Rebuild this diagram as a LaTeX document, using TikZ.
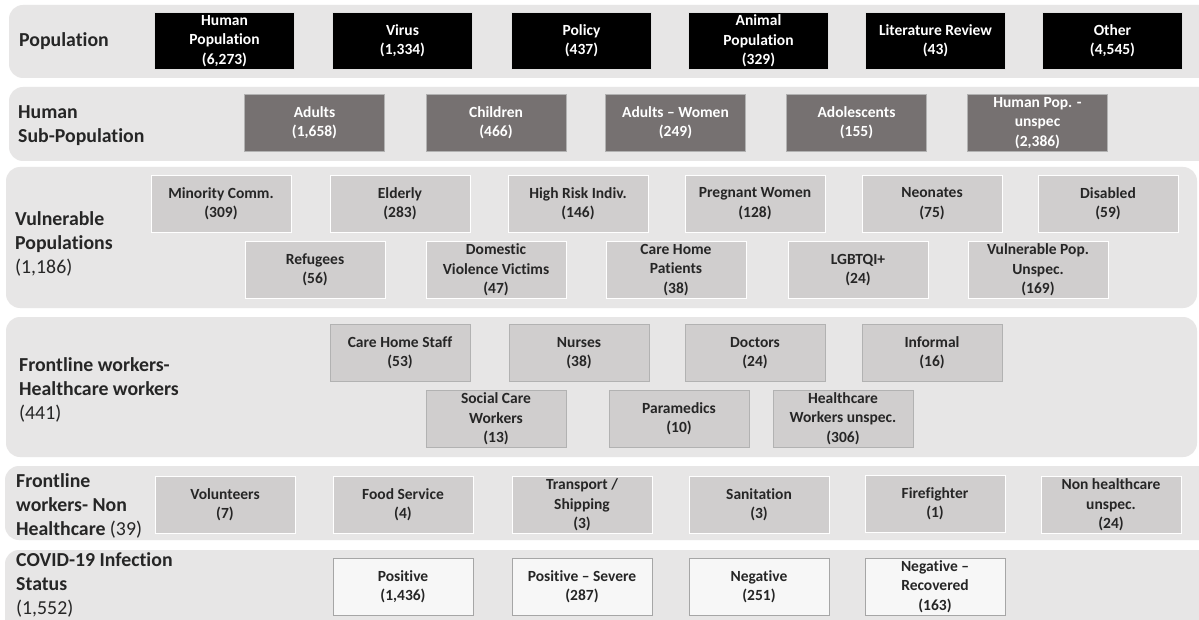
\documentclass[tikz,border=0pt]{standalone}
\usepackage{fontspec}
\setmainfont[Ligatures=NoCommon]{Carlito}
\definecolor{panelbg}{HTML}{E7E6E6}
\definecolor{darkfill}{HTML}{767171}
\definecolor{lightfill}{HTML}{D0CECE}
\definecolor{whitefill}{HTML}{F7F7F7}
\definecolor{txt}{HTML}{262626}
\begin{document}
\begin{tikzpicture}[x=1pt,y=-1pt,
  panel/.style={fill=panelbg, rounded corners=14pt},
  box/.style={rectangle, minimum width=140pt, minimum height=57pt, inner sep=0pt, align=center,
    font=\bfseries\fontsize{15.5}{19.3}\selectfont, line width=0.9pt},
  blackbox/.style={box, fill=black, draw=black!12, text=white},
  darkbox/.style={box, fill=darkfill, draw=black!30, text=white},
  lightbox/.style={box, fill=lightfill, draw=white, text=txt},
  lightboxg/.style={box, fill=lightfill, draw=black!30, text=txt},
  whitebox/.style={box, fill=whitefill, draw=black!35, text=txt},
  lbl/.style={anchor=west, align=left, inner sep=0pt, font=\fontsize{19.8}{24}\selectfont, text=txt}
]
\useasboundingbox (0,0) rectangle (1199,620);
\fill[white] (0,0) rectangle (1199,620);

% panels
\fill[panel] (9,5) rectangle (1215,78);
\fill[panel] (9,87) rectangle (1215,161);
\fill[panel] (6,167) rectangle (1197,308);
\fill[panel] (6,317) rectangle (1197,457);
\fill[panel] (5,466) rectangle (1215,540);
\fill[panel] (5,550) rectangle (1215,640);

% labels
\node[lbl] (lpop) at (19,41) {\textbf{Population}};
\node[lbl] (lsub) at (18,126) {\textbf{Human}\\\textbf{Sub-Population}};
\node[lbl] (lvul) at (15,244) {\textbf{Vulnerable}\\\textbf{Populations}\\(1,186)};
\node[lbl] (lhcw) at (19,390) {\textbf{Frontline workers-}\\\textbf{Healthcare workers}\\(441)};
\node[lbl] (lnon) at (16,506) {\textbf{Frontline}\\\textbf{workers- Non}\\\textbf{Healthcare} (39)};
\node[lbl] (lcov) at (16,585) {\textbf{COVID-19 Infection}\\\textbf{Status}\\(1,552)};

% row 1
\node[blackbox] (hp) at (224.5,41) {Human\\Population\\(6,273)};
\node[blackbox] (vi) at (402.5,41) {Virus\\(1,334)};
\node[blackbox] (po) at (581.5,41) {Policy\\(437)};
\node[blackbox] (ap) at (758.5,41) {Animal\\Population\\(329)};
\node[blackbox] (lr) at (935.5,41) {Literature Review\\(43)};
\node[blackbox] (ot) at (1112.5,41) {Other\\(4,545)};

% row 2
\node[darkbox] (ad) at (314.5,123) {Adults\\(1,658)};
\node[darkbox] (ch) at (496,123) {Children\\(466)};
\node[darkbox] (aw) at (675.5,123) {Adults – Women\\(249)};
\node[darkbox] (ao) at (856.5,123) {Adolescents\\(155)};
\node[darkbox] (hu) at (1037.5,123) {Human Pop. -\\unspec\\(2,386)};

% row 3
\node[lightbox] (mc) at (221,203.5) {Minority Comm.\\(309)};
\node[lightbox] (el) at (400,203.5) {Elderly\\(283)};
\node[lightbox] (hr) at (578,203.5) {High Risk Indiv.\\(146)};
\node[lightbox] (pw) at (755,203.5) {Pregnant Women\\(128)};
\node[lightbox] (ne) at (932,203.5) {Neonates\\(75)};
\node[lightbox] (di) at (1108,203.5) {Disabled\\(59)};
\node[lightbox] (re) at (315,270) {Refugees\\(56)};
\node[lightbox] (dv) at (496,270) {Domestic\\Violence Victims\\(47)};
\node[lightbox] (cp) at (676,270) {Care Home\\Patients\\(38)};
\node[lightbox] (lg) at (858,270) {LGBTQI+\\(24)};
\node[lightbox] (vu) at (1038,270) {Vulnerable Pop.\\Unspec.\\(169)};

% row 4
\node[lightboxg] (cs) at (400,353) {Care Home Staff\\(53)};
\node[lightboxg] (nu) at (579,353) {Nurses\\(38)};
\node[lightboxg] (do) at (755,353) {Doctors\\(24)};
\node[lightboxg] (in) at (932,353) {Informal\\(16)};
\node[lightboxg] (sc) at (496,419) {Social Care\\Workers\\(13)};
\node[lightboxg] (pa) at (679,418.5) {Paramedics\\(10)};
\node[lightboxg] (hw) at (843,418.5) {Healthcare\\Workers unspec.\\(306)};

% row 5
\node[lightbox] (vo) at (225,505) {Volunteers\\(7)};
\node[lightbox] (fs) at (403,505) {Food Service\\(4)};
\node[lightbox] (ts) at (582,505) {Transport /\\Shipping\\(3)};
\node[lightbox] (sa) at (759,505) {Sanitation\\(3)};
\node[lightbox] (ff) at (935,504) {Firefighter\\(1)};
\node[lightbox] (nh) at (1111,505) {Non healthcare\\unspec.\\(24)};

% row 6
\node[whitebox] (ps) at (403,586.5) {Positive\\(1,436)};
\node[whitebox] (pv) at (582,586.5) {Positive – Severe\\(287)};
\node[whitebox] (ng) at (759,586.5) {Negative\\(251)};
\node[whitebox] (nr) at (935,586.5) {Negative –\\Recovered\\(163)};
\end{tikzpicture}
\end{document}
